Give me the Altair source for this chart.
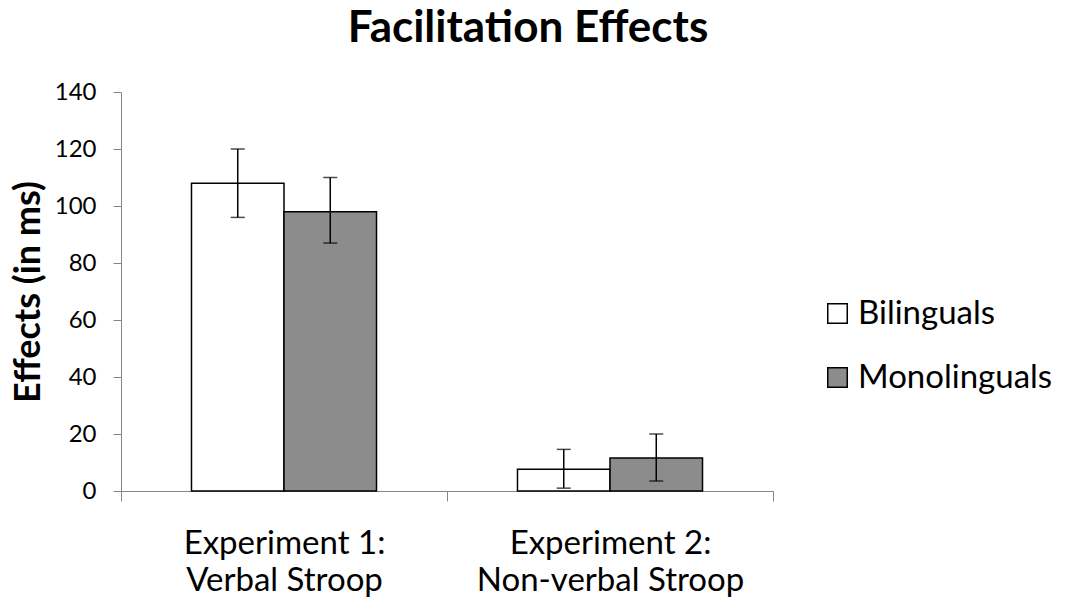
import altair as alt
import pandas as pd

experiments = ["Experiment 1:|Verbal Stroop", "Experiment 2:|Non-verbal Stroop"]
groups = ["Bilinguals", "Monolinguals"]
bilingual_means = [108, 7.6]
monolingual_means = [98, 11.6]
bilingual_low = [96, 1.0]
bilingual_high = [120, 14.6]
monolingual_low = [87, 3.5]
monolingual_high = [110, 20.0]
y_ticks = [0, 20, 40, 60, 80, 100, 120, 140]

rows = []
for i, e in enumerate(experiments):
    rows.append(dict(experiment=e, group=groups[0], mean=bilingual_means[i],
                     low=bilingual_low[i], high=bilingual_high[i]))
    rows.append(dict(experiment=e, group=groups[1], mean=monolingual_means[i],
                     low=monolingual_low[i], high=monolingual_high[i]))
df = pd.DataFrame(rows)

FONT = "Lato"
AXIS_GRAY = "#868686"

x_enc = alt.X(
    "experiment:N", sort=experiments,
    scale=alt.Scale(paddingInner=0, paddingOuter=0),
    axis=alt.Axis(title=None, labelExpr="split(datum.label, '|')", labelAngle=0,
                  tickBand="extent", domainColor=AXIS_GRAY, tickColor=AXIS_GRAY,
                  tickSize=10, labelFontSize=33, labelFont=FONT, labelColor="black",
                  labelPadding=26, labelLineHeight=37, labelLimit=0),
)
xoff = alt.XOffset("group:N", sort=groups,
                   scale=alt.Scale(paddingInner=0, paddingOuter=0.762))

y_axis = alt.Axis(values=y_ticks, grid=False, title="Effects (in ms)",
                  titleFontSize=36, titleFont=FONT, titleFontWeight="bold",
                  titleColor="black", titlePadding=7,
                  labelFontSize=24, labelFont=FONT, labelColor="black",
                  labelPadding=17, tickSize=8,
                  domainColor=AXIS_GRAY, tickColor=AXIS_GRAY)
y_scale = alt.Scale(domain=[0, 140], nice=False)

base = alt.Chart(df)

bars = base.mark_bar(stroke="black", strokeWidth=1.5).encode(
    x=x_enc, xOffset=xoff,
    y=alt.Y("mean:Q", scale=y_scale, axis=y_axis, title="Effects (in ms)"),
    color=alt.Color("group:N",
                    scale=alt.Scale(domain=groups, range=["white", "#8c8c8c"]),
                    legend=alt.Legend(orient="none", legendX=700, legendY=205,
                                      title=None, symbolType="square",
                                      symbolSize=380, symbolStrokeColor="black",
                                      symbolStrokeWidth=1.5, labelFontSize=33,
                                      labelFont=FONT, labelColor="black",
                                      rowPadding=30, labelOffset=4, labelLimit=0)),
)

err = base.mark_rule(color="black", strokeWidth=1.5).encode(
    x=x_enc, xOffset=xoff,
    y=alt.Y("low:Q", scale=y_scale, axis=y_axis, title="Effects (in ms)"),
    y2="high:Q",
)

caps = base.transform_fold(["low", "high"], as_=["bound", "val"]).mark_tick(
    color="black", thickness=1.5, size=14, orient="horizontal"
).encode(
    x=x_enc, xOffset=xoff,
    y=alt.Y("val:Q", scale=y_scale, axis=y_axis, title="Effects (in ms)"),
)

chart = alt.layer(bars, err, caps).properties(
    width=652, height=399,
    title=alt.TitleParams("Facilitation Effects", fontSize=44, font=FONT,
                          fontWeight="bold", anchor="middle", dx=81, offset=29,
                          color="black"),
    padding={"left": 113, "top": 84, "right": 288, "bottom": 108},
    autosize=alt.AutoSizeParams(type="none"),
).configure_view(stroke=None)

chart.save("out.html", embed_options={"renderer": "svg", "actions": False})
